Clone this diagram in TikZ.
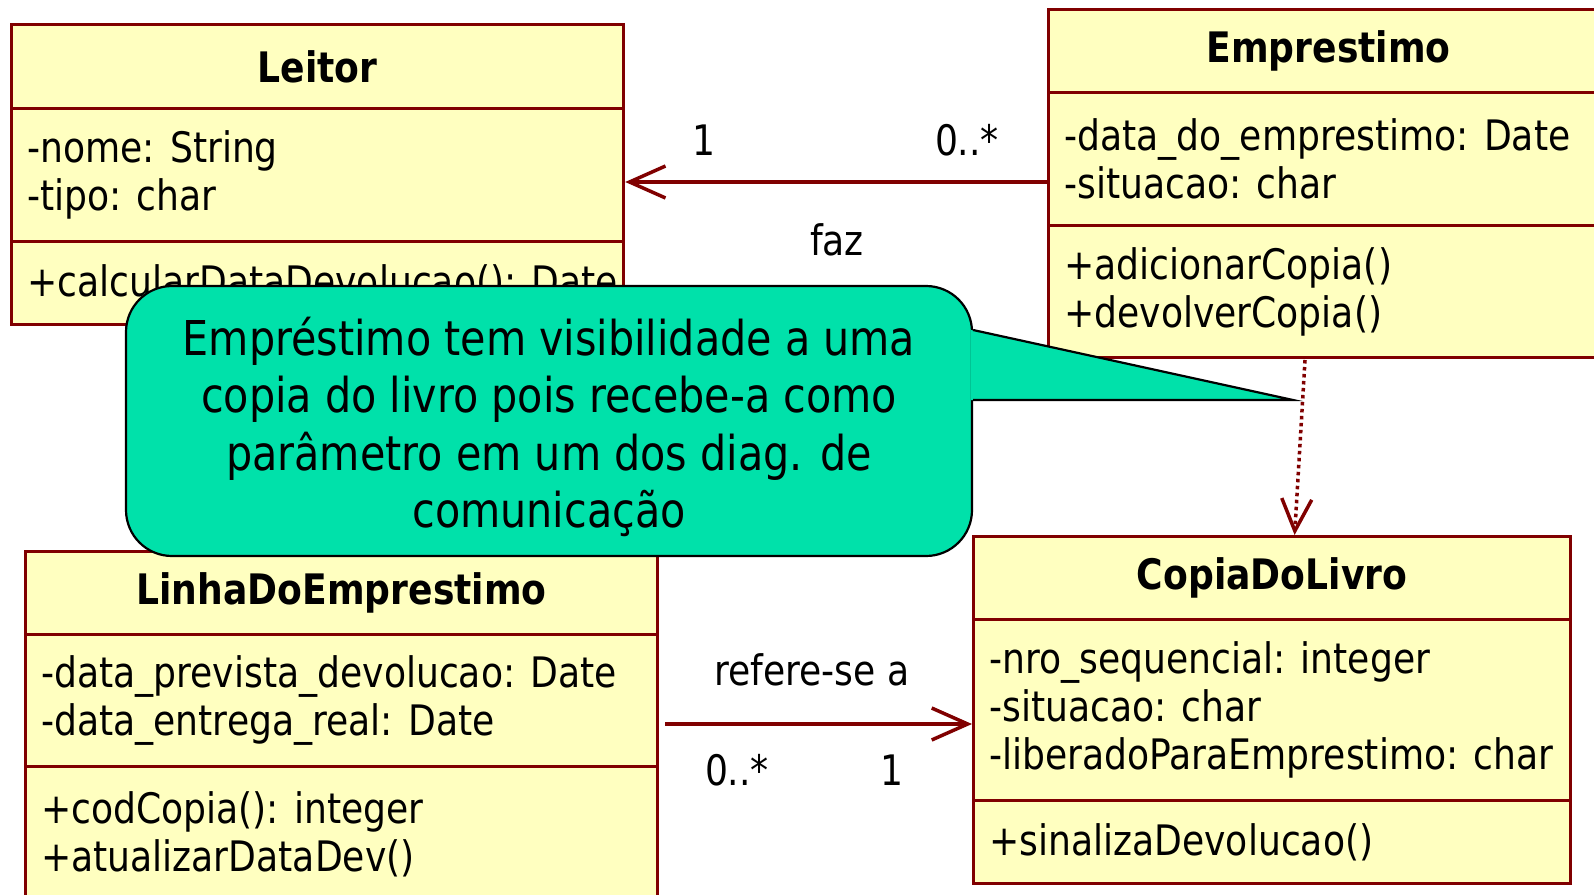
\documentclass[tikz,border=0pt]{standalone}
\usepackage{fontspec}
\setmainfont{DejaVu Sans}[FakeStretch=0.86]
\usetikzlibrary{arrows.meta,positioning}
\definecolor{UMLred}{RGB}{128,0,0}
\definecolor{UMLyellow}{RGB}{255,255,192}
\definecolor{NOTEgreen}{RGB}{0,225,170}

\tikzset{
  compartment/.style={draw=UMLred, fill=UMLyellow, line width=3.2pt, anchor=north west, inner sep=0pt},
  classname/.style={font=\fontsize{42}{48}\selectfont\bfseries, inner sep=0pt},
  members/.style={font=\fontsize{42}{48}\selectfont, align=left, inner sep=0pt, anchor=west},
  rolelabel/.style={font=\fontsize{42}{48}\selectfont, anchor=base, inner sep=0pt},
  assoc/.style={draw=UMLred, line width=3.5pt, -{Straight Barb[length=36pt, width=32pt]}},
  depend/.style={draw=UMLred, line width=3.5pt, dash pattern=on 3.5pt off 3.5pt, -{Straight Barb[length=32pt, width=30pt]}},
  note/.style={draw=black, line width=2.2pt, fill=NOTEgreen, rounded corners=46pt},
  notetext/.style={align=center, inner sep=0pt, font=\fontsize{48}{57.5}\selectfont}
}

\begin{document}
\begin{tikzpicture}[x=1pt, y=-1pt]
    \useasboundingbox (0,0) rectangle (1594,894);
    \clip (0,0) rectangle (1594,894);

    % Leitor
    \node[compartment, minimum width=612pt, minimum height=84pt] (leitorHead) at (10,23) {};
    \node[compartment, minimum width=612pt, minimum height=133pt] (leitorAttr) at (10,107) {};
    \node[compartment, minimum width=612pt, minimum height=83pt] (leitorMeth) at (10,240) {};
    \node[classname] at (leitorHead.center) {Leitor};
    \node[members, right=17pt of leitorAttr.west] {-nome: String\\-tipo: char};
    \node[members, right=17pt of leitorMeth.west] {+calcularDataDevolucao(): Date};

    % Emprestimo
    \node[compartment, minimum width=560pt, minimum height=83pt] (empHead) at (1047,8) {};
    \node[compartment, minimum width=560pt, minimum height=133pt] (empAttr) at (1047,91) {};
    \node[compartment, minimum width=560pt, minimum height=132pt] (empMeth) at (1047,224) {};
    \node[classname] at (empHead.center) {Emprestimo};
    \node[members, right=17pt of empAttr.west] {-data\_do\_emprestimo: Date\\-situacao: char};
    \node[members, right=17pt of empMeth.west] {+adicionarCopia()\\+devolverCopia()};

    % LinhaDoEmprestimo
    \node[compartment, minimum width=632pt, minimum height=83pt] (linhaHead) at (24,550) {};
    \node[compartment, minimum width=632pt, minimum height=132pt] (linhaAttr) at (24,633) {};
    \node[compartment, minimum width=632pt, minimum height=135pt] (linhaMeth) at (24,765) {};
    \node[classname] at (linhaHead.center) {LinhaDoEmprestimo};
    \node[members, right=17pt of linhaAttr.west] {-data\_prevista\_devolucao: Date\\-data\_entrega\_real: Date};
    \node[members, right=17pt of linhaMeth.west] {+codCopia(): integer\\+atualizarDataDev()};

    % CopiaDoLivro
    \node[compartment, minimum width=597pt, minimum height=83pt] (copiaHead) at (972,535) {};
    \node[compartment, minimum width=597pt, minimum height=181pt] (copiaAttr) at (972,618) {};
    \node[compartment, minimum width=597pt, minimum height=83pt] (copiaMeth) at (972,799) {};
    \node[classname] at (copiaHead.center) {CopiaDoLivro};
    \node[members, right=17pt of copiaAttr.west] {-nro\_sequencial: integer\\-situacao: char\\-liberadoParaEmprestimo: char};
    \node[members, right=17pt of copiaMeth.west] {+sinalizaDevolucao()};

    % associations
    \draw[assoc] (empAttr.west |- 0,182) -- (leitorAttr.east |- 0,182);
    \node[rolelabel] (fazOne) at (704,155) {1};
    \node[rolelabel] (fazMany) at (967,155) {0..*};
    \node[rolelabel] (fazName) at (837,255) {faz};

    \draw[assoc] ([xshift=6pt]linhaAttr.east |- 0,724) -- (copiaAttr.west |- 0,724);
    \node[rolelabel] (refName) at (812,685) {refere-se a};
    \node[rolelabel] (refMany) at (737,785) {0..*};
    \node[rolelabel] (refOne) at (892,785) {1};

    \coordinate (depStart) at (1305,360);
    \draw[depend] (depStart) -- ([xshift=22.5pt]copiaHead.north);

    % callout
    \node[note, minimum width=846pt, minimum height=270pt] (note) at (549,421) {};
    \coordinate (tip) at (1293,400);
    \fill[NOTEgreen] ([xshift=-2pt, yshift=91pt]note.east) -- (tip) -- ([xshift=-2pt, yshift=21pt]note.east) -- cycle;
    \draw[black, line width=2.2pt] ([yshift=91pt]note.east) -- (tip) -- ([yshift=21pt]note.east);
    \node[notetext] (noteText) at ([yshift=-6pt]note.center)
        {Empréstimo tem visibilidade a uma\\copia do livro pois recebe-a como\\parâmetro em um dos diag. de\\comunicação};
\end{tikzpicture}
\end{document}
